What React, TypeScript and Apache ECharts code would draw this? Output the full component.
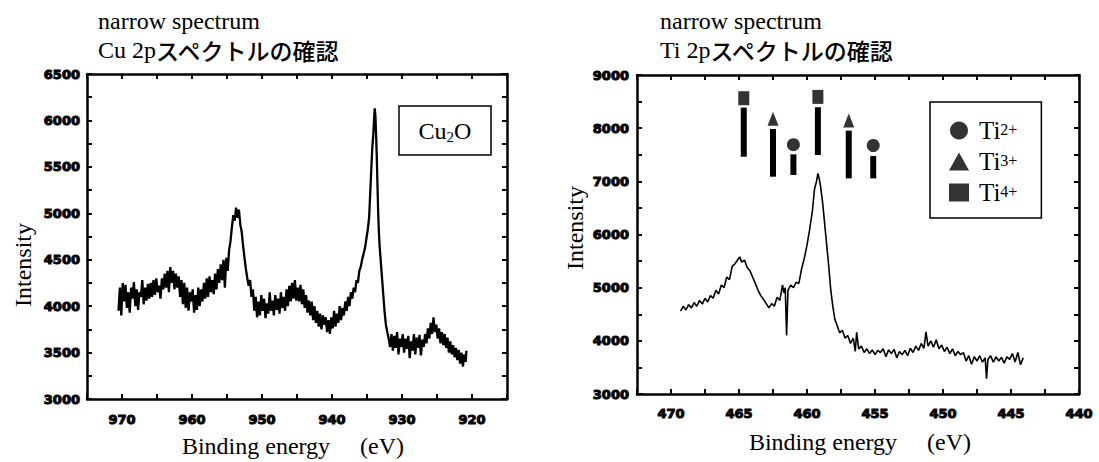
import React, { useEffect, useRef } from 'react';
import * as echarts from 'echarts';

// ---------- Data ----------
// Cu 2p narrow spectrum: [binding energy (eV), intensity]
const cuSpectrum: [number, number][] = [
  [970.5,3950],[970.3,4200],[970.1,3900],[969.9,4250],[969.7,4050],[969.5,4230],[969.3,3980],[969.1,4150],[968.9,3930],[968.7,4200],
  [968.5,4080],[968.3,4260],[968.1,4000],[967.9,4180],[967.7,3960],[967.5,4150],[967.3,4100],[967.1,4280],[966.9,4020],[966.7,4200],
  [966.5,4060],[966.3,4240],[966.1,4080],[965.9,4250],[965.7,4100],[965.5,4280],[965.3,4120],[965.1,4300],[964.9,4150],[964.7,4220],
  [964.5,4080],[964.3,4300],[964.1,4180],[963.9,4350],[963.7,4200],[963.5,4380],[963.3,4150],[963.1,4420],[962.9,4250],[962.7,4380],
  [962.5,4180],[962.3,4350],[962.1,4200],[961.9,4320],[961.7,4100],[961.5,4280],[961.3,4020],[961.1,4250],[960.9,3980],[960.7,4200],
  [960.5,3950],[960.3,4150],[960.1,4050],[959.9,4180],[959.7,3930],[959.5,4120],[959.3,3960],[959.1,4200],[958.9,4000],[958.7,4180],
  [958.5,4050],[958.3,4250],[958.1,4080],[957.9,4300],[957.7,4100],[957.5,4320],[957.3,4150],[957.1,4280],[956.9,4130],[956.7,4350],
  [956.5,4180],[956.3,4400],[956.1,4250],[955.9,4450],[955.7,4280],[955.5,4500],[955.3,4200],[955.1,4520],[954.9,4380],[954.7,4600],
  [954.5,4700],[954.3,4850],[954.1,4980],[953.9,4920],[953.7,5060],[953.5,4950],[953.3,5040],[953.1,4880],[952.9,4800],[952.7,4650],
  [952.5,4520],[952.3,4400],[952.1,4300],[951.9,4220],[951.7,4280],[951.5,4100],[951.3,4180],[951.1,3950],[950.9,4100],[950.7,3880],
  [950.5,4050],[950.3,3900],[950.1,4120],[949.9,3950],[949.7,4080],[949.5,3870],[949.3,4030],[949.1,3920],[948.9,4150],[948.7,3950],
  [948.5,4060],[948.3,3900],[948.1,4120],[947.9,3960],[947.7,4080],[947.5,3920],[947.3,4150],[947.1,3980],[946.9,4100],[946.7,3950],
  [946.5,4180],[946.3,4000],[946.1,4220],[945.9,4050],[945.7,4250],[945.5,4080],[945.3,4280],[945.1,4060],[944.9,4200],[944.7,4050],
  [944.5,4230],[944.3,4020],[944.1,4180],[943.9,3980],[943.7,4120],[943.5,3930],[943.3,4060],[943.1,3900],[942.9,4050],[942.7,3850],
  [942.5,4000],[942.3,3820],[942.1,3950],[941.9,3780],[941.7,3920],[941.5,3750],[941.3,3900],[941.1,3800],[940.9,3880],[940.7,3720],
  [940.5,3850],[940.3,3700],[940.1,3880],[939.9,3760],[939.7,3950],[939.5,3780],[939.3,3920],[939.1,3820],[938.9,4000],[938.7,3850],
  [938.5,3980],[938.3,3900],[938.1,4050],[937.9,3950],[937.7,4100],[937.5,4000],[937.3,4150],[937.1,4080],[936.9,4200],[936.7,4150],
  [936.5,4280],[936.3,4250],[936.1,4380],[935.9,4420],[935.7,4500],[935.5,4560],[935.3,4620],[935.1,4720],[934.9,4820],[934.7,4950],
  [934.55,5200],[934.4,5450],[934.25,5700],[934.1,5850],[934.0,6000],[933.9,6130],[933.8,6050],[933.7,5850],[933.6,5600],[933.5,5300],
  [933.4,5000],[933.3,4800],[933.2,4650],[933.05,4500],[932.9,4350],[932.7,4150],[932.5,3950],[932.3,3800],[932.1,3720],[931.9,3650],
  [931.7,3560],[931.5,3700],[931.3,3520],[931.1,3680],[930.9,3550],[930.7,3720],[930.5,3480],[930.3,3650],[930.1,3560],[929.9,3700],
  [929.7,3500],[929.5,3650],[929.3,3540],[929.1,3680],[928.9,3440],[928.7,3620],[928.5,3520],[928.3,3700],[928.1,3480],[927.9,3660],
  [927.7,3550],[927.5,3690],[927.3,3470],[927.1,3640],[926.9,3560],[926.7,3700],[926.5,3600],[926.3,3760],[926.1,3650],[925.9,3820],
  [925.7,3700],[925.5,3880],[925.3,3720],[925.1,3800],[924.9,3650],[924.7,3760],[924.5,3600],[924.3,3720],[924.1,3580],[923.9,3700],
  [923.7,3550],[923.5,3660],[923.3,3500],[923.1,3620],[922.9,3480],[922.7,3580],[922.5,3450],[922.3,3550],[922.1,3420],[921.9,3530],
  [921.7,3380],[921.5,3500],[921.3,3350],[921.1,3480],[920.9,3400],[920.8,3520]
];

// Ti 2p narrow spectrum: [binding energy (eV), intensity]
const tiSpectrum: [number, number][] = [
  [469.3,4560],[469.1,4650],[468.9,4580],[468.7,4680],[468.5,4620],[468.3,4720],[468.1,4650],[467.9,4760],[467.7,4690],[467.5,4800],
  [467.3,4730],[467.1,4850],[466.9,4800],[466.7,4950],[466.5,4880],[466.3,5050],[466.1,5000],[465.9,5200],[465.7,5150],[465.5,5400],
  [465.3,5450],[465.1,5520],[464.95,5580],[464.8,5480],[464.6,5520],[464.4,5380],[464.2,5320],[464.0,5200],[463.8,5080],[463.6,4950],
  [463.4,4850],[463.2,4780],[463.0,4700],[462.8,4620],[462.6,4700],[462.4,4650],[462.2,4820],[462.0,4760],[461.8,5050],[461.7,4900],
  [461.6,5000],[461.5,4100],[461.4,4950],[461.2,5050],[461.0,5000],[460.8,5100],[460.6,5080],[460.4,5350],[460.2,5550],[460.0,5800],
  [459.8,6100],[459.6,6450],[459.45,6850],[459.3,7000],[459.2,7150],[459.1,7050],[459.0,6900],[458.85,6600],[458.7,6200],[458.55,5800],
  [458.4,5400],[458.25,4950],[458.1,4650],[457.95,4400],[457.8,4300],[457.6,4150],[457.4,4200],[457.2,4050],[457.0,4100],[456.8,3950],
  [456.6,4050],[456.45,3800],[456.35,4160],[456.2,3850],[456.0,3900],[455.8,3780],[455.6,3850],[455.4,3760],[455.2,3830],[455.0,3740],
  [454.8,3820],[454.6,3780],[454.4,3850],[454.2,3700],[454.0,3830],[453.8,3760],[453.6,3840],[453.4,3680],[453.2,3800],[453.0,3740],
  [452.8,3820],[452.6,3720],[452.4,3860],[452.2,3780],[452.0,3900],[451.8,3820],[451.6,3950],[451.4,3860],[451.25,4170],[451.1,3900],
  [450.9,4000],[450.7,3880],[450.5,4020],[450.3,3850],[450.1,3920],[449.9,3800],[449.7,3880],[449.5,3760],[449.3,3850],[449.1,3720],
  [448.9,3800],[448.7,3740],[448.5,3780],[448.3,3620],[448.1,3720],[447.9,3560],[447.7,3700],[447.5,3620],[447.3,3720],[447.1,3600],
  [446.9,3680],[446.8,3290],[446.7,3650],[446.5,3720],[446.3,3600],[446.1,3700],[445.9,3620],[445.7,3690],[445.5,3580],[445.3,3700],
  [445.1,3650],[444.9,3760],[444.7,3600],[444.5,3780],[444.3,3550],[444.1,3680]
];

// Reference peak markers for Ti oxidation states
const tiMarkerBE = [464.65, 462.5, 461.0, 459.2, 456.93, 455.13];
const tiMarkerIon = ['Ti4+', 'Ti3+', 'Ti2+', 'Ti4+', 'Ti3+', 'Ti2+'];
const tiMarkerSymbolY = [8563, 8179, 7689, 8588, 8145, 7674];
const tiMarkerBarTop = [8386, 7985, 7508, 8394, 7953, 7476];
const tiMarkerBarBottom = [7463, 7087, 7119, 7495, 7056, 7056];
const tiIons = ['Ti2+', 'Ti3+', 'Ti4+'];
const tiIonLabels = ['2+', '3+', '4+'];

// Tick labels
const cuXLabels = [970, 960, 950, 940, 930, 920];
const cuYLabels = [3000, 3500, 4000, 4500, 5000, 5500, 6000, 6500];
const tiXLabels = [470, 465, 460, 455, 450, 445, 440];
const tiYLabels = [3000, 4000, 5000, 6000, 7000, 8000, 9000];

const SERIF = 'Liberation Serif';
const CJK = 'Noto Sans CJK JP';
const TICK_FONT = 'DejaVu Sans';

export default function App() {
  const ref = useRef<HTMLDivElement>(null);

  useEffect(() => {
    if (!ref.current) return;
    const chart = echarts.init(ref.current, undefined, { renderer: 'svg' });

    const axisLine = { show: true, onZero: false, lineStyle: { color: '#000', width: 2.5 } };
    const axisTick = { show: true, inside: true, length: 5, lineStyle: { color: '#000', width: 2 } };
    const tickLabel = (labels: number[], margin: number) => ({
      show: true,
      margin,
      color: '#000',
      fontFamily: TICK_FONT,
      fontWeight: 'bold',
      fontSize: 13,
      textBorderColor: '#000',
      textBorderWidth: 1,
      showMinLabel: true,
      showMaxLabel: true,
      formatter: (v: number) => (labels.indexOf(Math.round(v * 10) / 10) >= 0 ? String(v) : ''),
    });

    const xAxisBase = (gridIndex: number, min: number, max: number, interval: number) => ({
      type: 'value' as const,
      gridIndex,
      min,
      max,
      interval,
      inverse: true,
      axisLine,
      axisTick,
      splitLine: { show: false },
    });
    const yAxisBase = (gridIndex: number, min: number, max: number, interval: number) => ({
      type: 'value' as const,
      gridIndex,
      min,
      max,
      interval,
      axisLine,
      axisTick,
      splitLine: { show: false },
    });

    const markerData = tiMarkerBE.map((be, i) => [be, tiMarkerBarBottom[i], tiMarkerBarTop[i]]);

    const symbolFor: Record<string, string> = { 'Ti2+': 'circle', 'Ti3+': 'triangle', 'Ti4+': 'rect' };
    const sizeFor: Record<string, number[]> = { 'Ti2+': [13, 13], 'Ti3+': [11, 14], 'Ti4+': [11, 14] };

    const ionSeries = tiIons.map((ion) => ({
      name: ion,
      type: 'scatter' as const,
      xAxisIndex: 2,
      yAxisIndex: 2,
      symbol: symbolFor[ion],
      symbolSize: sizeFor[ion],
      itemStyle: { color: '#000' },
      silent: true,
      z: 5,
      data: tiMarkerBE
        .map((be, i) => (tiMarkerIon[i] === ion ? [be, tiMarkerSymbolY[i]] : null))
        .filter((d) => d !== null),
    }));

    const titleRich = {
      a: { fontFamily: SERIF, fontSize: 24, fill: '#000' },
      j: { fontFamily: CJK, fontSize: 23, fontWeight: 500, fill: '#000' },
    };

    const option: any = {
      animation: false,
      backgroundColor: '#fff',
      grid: [
        { left: 87, top: 74, width: 420, height: 325 },
        { left: 637, top: 75, width: 442, height: 319 },
      ],
      xAxis: [
        { ...xAxisBase(0, 915, 975, 5), position: 'bottom', axisLabel: tickLabel(cuXLabels, 14) },
        { ...xAxisBase(0, 915, 975, 5), position: 'top', axisLabel: { show: false } },
        { ...xAxisBase(1, 440, 472.5, 2.5), position: 'bottom', axisLabel: tickLabel(tiXLabels, 13) },
        { ...xAxisBase(1, 440, 472.5, 2.5), position: 'top', axisLabel: { show: false } },
      ],
      yAxis: [
        { ...yAxisBase(0, 3000, 6500, 250), position: 'left', axisLabel: tickLabel(cuYLabels, 7) },
        { ...yAxisBase(0, 3000, 6500, 250), position: 'right', axisLabel: { show: false } },
        { ...yAxisBase(1, 3000, 9000, 500), position: 'left', axisLabel: tickLabel(tiYLabels, 8) },
        { ...yAxisBase(1, 3000, 9000, 500), position: 'right', axisLabel: { show: false } },
      ],
      legend: {
        data: [
          { name: 'Ti2+', icon: 'circle' },
          { name: 'Ti3+', icon: 'triangle' },
          { name: 'Ti4+', icon: 'rect' },
        ],
        orient: 'vertical',
        left: 930,
        top: 102,
        padding: [16, 24, 13, 19],
        itemGap: 6,
        itemWidth: 20,
        itemHeight: 18,
        selectedMode: false,
        borderColor: '#000',
        borderWidth: 1.5,
        backgroundColor: '#fff',
        formatter: (name: string) => {
          const idx = tiIons.indexOf(name);
          return '{b|Ti}{s|' + tiIonLabels[idx] + '}';
        },
        textStyle: {
          color: '#000',
          lineHeight: 18,
          rich: {
            b: { fontFamily: SERIF, fontSize: 25, color: '#000', lineHeight: 18, padding: [0, 0, 0, 5] },
            s: { fontFamily: SERIF, fontSize: 16, color: '#000', lineHeight: 10, verticalAlign: 'top' },
          },
        },
      },
      graphic: [
        { type: 'text', left: 98, top: 9, style: { text: 'narrow spectrum', fontFamily: SERIF, fontSize: 24, fill: '#000' } },
        { type: 'text', left: 98, top: 38, style: { text: '{a|Cu 2p}{j|スペクトルの確認}', rich: titleRich } },
        { type: 'text', left: 660, top: 9, style: { text: 'narrow spectrum', fontFamily: SERIF, fontSize: 24, fill: '#000' } },
        { type: 'text', left: 660, top: 38, style: { text: '{a|Ti 2p}{j|スペクトルの確認}', rich: titleRich } },
        {
          type: 'text', x: 23, y: 265, rotation: Math.PI / 2,
          style: { text: 'Intensity', fontFamily: SERIF, fontSize: 24, fill: '#000', align: 'center', verticalAlign: 'middle' },
        },
        {
          type: 'text', x: 575, y: 228, rotation: Math.PI / 2,
          style: { text: 'Intensity', fontFamily: SERIF, fontSize: 24, fill: '#000', align: 'center', verticalAlign: 'middle' },
        },
        {
          type: 'text', x: 293, y: 446,
          style: { text: 'Binding energy　 (eV)', fontFamily: SERIF, fontSize: 24, fill: '#000', align: 'center', verticalAlign: 'middle' },
        },
        {
          type: 'text', x: 860, y: 442,
          style: { text: 'Binding energy　 (eV)', fontFamily: SERIF, fontSize: 24, fill: '#000', align: 'center', verticalAlign: 'middle' },
        },
        {
          type: 'rect', shape: { x: 399, y: 106, width: 92, height: 49 },
          style: { fill: '#fff', stroke: '#000', lineWidth: 1.5 }, z: 10,
        },
        {
          type: 'text', x: 445, y: 131, z: 11,
          style: {
            text: '{n|Cu}{s|2}{n|O}', align: 'center', verticalAlign: 'middle',
            rich: {
              n: { fontFamily: SERIF, fontSize: 24, fill: '#000', lineHeight: 26 },
              s: { fontFamily: SERIF, fontSize: 15, fill: '#000', lineHeight: 26, verticalAlign: 'bottom', padding: [8, 0, 0, 0] },
            },
          },
        },
      ],
      series: [
        {
          type: 'line',
          xAxisIndex: 0,
          yAxisIndex: 0,
          data: cuSpectrum,
          showSymbol: false,
          symbol: 'none',
          lineStyle: { color: '#000', width: 2.3 },
          silent: true,
        },
        {
          type: 'line',
          xAxisIndex: 2,
          yAxisIndex: 2,
          data: tiSpectrum,
          showSymbol: false,
          symbol: 'none',
          lineStyle: { color: '#000', width: 1.6 },
          silent: true,
        },
        {
          type: 'custom',
          xAxisIndex: 2,
          yAxisIndex: 2,
          silent: true,
          data: markerData,
          renderItem: (_params: any, api: any) => {
            const top = api.coord([api.value(0), api.value(2)]);
            const bottom = api.coord([api.value(0), api.value(1)]);
            return {
              type: 'rect',
              shape: { x: top[0] - 3, y: top[1], width: 6, height: bottom[1] - top[1] },
              style: { fill: '#000' },
            };
          },
        },
        ...ionSeries,
      ],
    };

    chart.setOption(option);
    return () => chart.dispose();
  }, []);

  return <div ref={ref} style={{ position: 'fixed', left: 0, top: 0, width: 1099, height: 462, background: '#fff' }} />;
}
